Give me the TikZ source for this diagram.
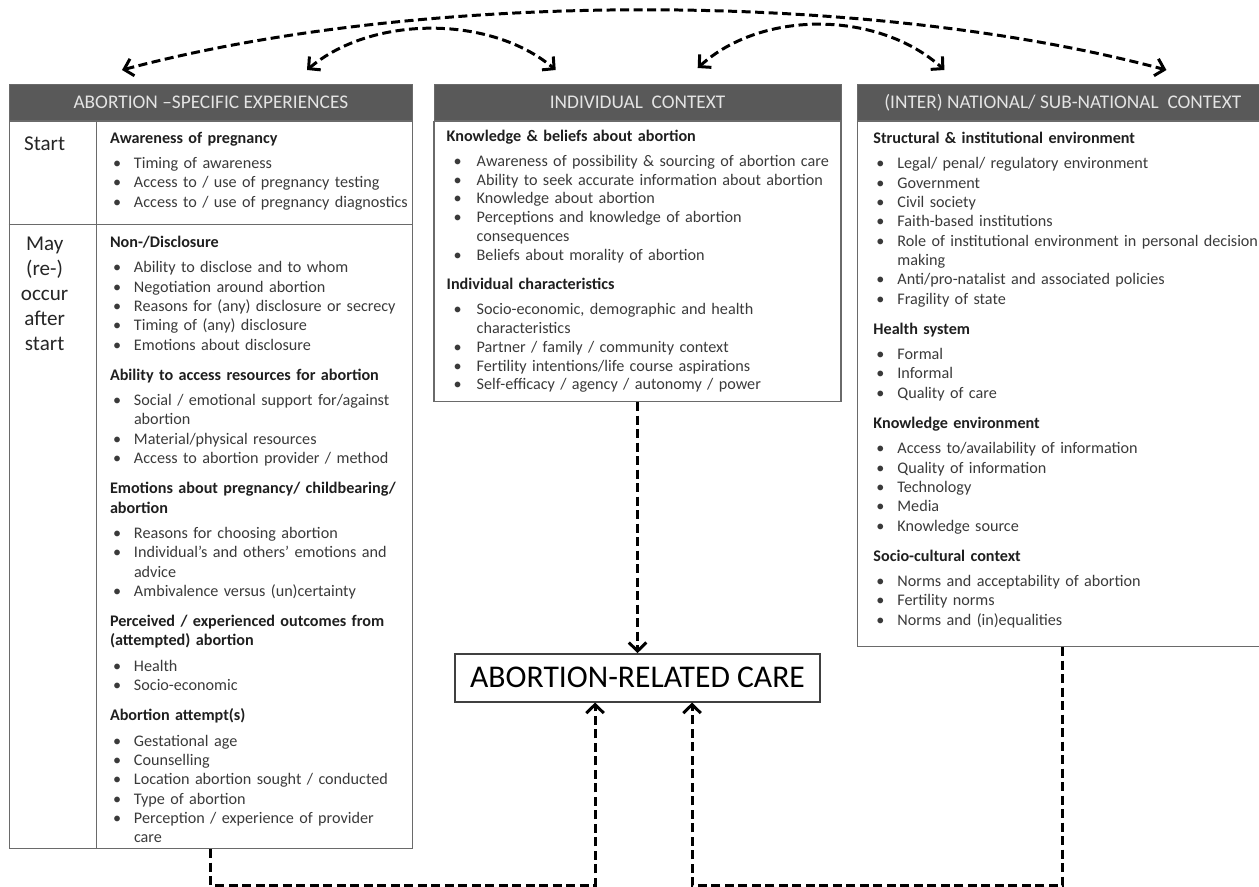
\documentclass[tikz,border=0pt]{standalone}
\usepackage{fontspec}
\setmainfont{Carlito}
\usetikzlibrary{positioning, arrows.meta}

\definecolor{hdrgray}{HTML}{595959}
\definecolor{hdrtext}{HTML}{E4E4E4}
\definecolor{bodytext}{HTML}{3A3A3A}
\definecolor{linegray}{HTML}{6A6A6A}

\setlength{\parskip}{0pt}
\newlength{\bulpos}\setlength{\bulpos}{0.06cm}
\newlength{\bulind}\setlength{\bulind}{0.48cm}
\newcommand{\firstgrp}[1]{\noindent{\bfseries\color{black!88}#1}\par\vspace{3.4pt}}
\newcommand{\grp}[1]{\par\vspace{6.2pt}\noindent{\bfseries\color{black!88}#1}\par\vspace{3.4pt}}
\newcommand{\bul}[1]{\par\noindent\hangindent=\bulind\hangafter=1\makebox[\bulind][l]{\hspace{\bulpos}\textbullet}#1}

\begin{document}
\begin{tikzpicture}[
    hdr/.style={draw=linegray, fill=hdrgray, text=hdrtext, minimum height=0.72cm, inner sep=0pt, font=\fontsize{11}{12}\selectfont},
    body/.style={draw=linegray, line width=0.8pt, inner sep=0pt},
    txt/.style={anchor=north west, inner sep=0pt, align=left, text=bodytext, font=\fontsize{9.2}{11}\selectfont},
    phase/.style={inner sep=0pt, text=black!85, font=\fontsize{12}{14.2}\selectfont},
    dashline/.style={line width=1.7pt, dash pattern=on 0.18cm off 0.09cm},
    >={Straight Barb[length=1.7mm, width=3.5mm]}
]
    \useasboundingbox (0,0) rectangle (25.18,-17.72);
    \clip (0,0) rectangle (25.18,-17.72);

    % Headers
    \node[hdr, minimum width=8.06cm, anchor=north west] (hdrleft) at (0.18,-1.68) {ABORTION –SPECIFIC EXPERIENCES};
    \node[hdr, minimum width=8.14cm, right=0.42cm of hdrleft] (hdrmid) {INDIVIDUAL\ \ CONTEXT};
    \node[hdr, minimum width=8.2cm, right=0.32cm of hdrmid] (hdrright) {(INTER) NATIONAL/ SUB-NATIONAL\ \ CONTEXT};

    % Boxes below the headers
    \node[body, minimum width=8.06cm, minimum height=14.54cm, below=0pt of hdrleft] (bodyleft) {};
    \node[body, minimum width=8.14cm, minimum height=5.6cm, below=0pt of hdrmid] (bodymid) {};
    \node[body, minimum width=8.2cm, minimum height=10.5cm, below=0pt of hdrright] (bodyright) {};

    % Phase column and row of the left box
    \draw[draw=linegray, line width=0.8pt] ([xshift=1.76cm]bodyleft.north west) -- ([xshift=1.76cm]bodyleft.south west);
    \draw[draw=linegray, line width=0.8pt] ([yshift=-2.08cm]bodyleft.north west) -- ([yshift=-2.08cm]bodyleft.north east);

    \node[phase, anchor=base] (start) at ([shift={(0.72cm,-0.6cm)}]bodyleft.north west) {Start};
    \node[phase, anchor=north, align=center] (later) at ([shift={(0.72cm,-2.32cm)}]bodyleft.north west) {May\\(re-)\\occur\\after\\start};

    % Abortion-specific experiences
    \node[txt, text width=6.3cm] (txtstart) at ([shift={(2.02cm,-0.22cm)}]bodyleft.north west) {%
        \firstgrp{Awareness of pregnancy}
        \bul{Timing of awareness}
        \bul{Access to / use of pregnancy testing}
        \bul{Access to / use of pregnancy diagnostics}\par};

    \node[txt, text width=6.3cm] (txtafter) at ([shift={(2.02cm,-2.3cm)}]bodyleft.north west) {%
        \firstgrp{Non-/Disclosure}
        \bul{Ability to disclose and to whom}
        \bul{Negotiation around abortion}
        \bul{Reasons for (any) disclosure or secrecy}
        \bul{Timing of (any) disclosure}
        \bul{Emotions about disclosure}
        \grp{Ability to access resources for abortion}
        \bul{Social / emotional support for/against\newline abortion}
        \bul{Material/physical resources}
        \bul{Access to abortion provider / method}
        \grp{Emotions about pregnancy/ childbearing/\newline abortion}
        \bul{Reasons for choosing abortion}
        \bul{Individual’s and others’ emotions and\newline advice}
        \bul{Ambivalence versus (un)certainty}
        \grp{Perceived / experienced outcomes from\newline (attempted) abortion}
        \bul{Health}
        \bul{Socio-economic}
        \grp{Abortion attempt(s)}
        \bul{Gestational age}
        \bul{Counselling}
        \bul{Location abortion sought / conducted}
        \bul{Type of abortion}
        \bul{Perception / experience of provider\newline care}\par};

    % Individual context
    \node[txt, text width=7.8cm, font=\fontsize{9.2}{10.7}\selectfont, execute at begin node={\setlength{\bulpos}{0.14cm}\setlength{\bulind}{0.6cm}}] (txtmid) at ([shift={(0.26cm,-0.18cm)}]bodymid.north west) {%
        \firstgrp{Knowledge \& beliefs about abortion}
        \bul{Awareness of possibility \& sourcing of abortion care}
        \bul{Ability to seek accurate information about abortion}
        \bul{Knowledge about abortion}
        \bul{Perceptions and knowledge of abortion\newline consequences}
        \bul{Beliefs about morality of abortion}
        \grp{Individual characteristics}
        \bul{Socio-economic, demographic and health\newline characteristics}
        \bul{Partner / family / community context}
        \bul{Fertility intentions/life course aspirations}
        \bul{Self-efficacy / agency / autonomy / power}\par};

    % (Inter) national / sub-national context
    \node[txt, text width=7.8cm] (txtright) at ([shift={(0.32cm,-0.22cm)}]bodyright.north west) {%
        \firstgrp{Structural \& institutional environment}
        \bul{Legal/ penal/ regulatory environment}
        \bul{Government}
        \bul{Civil society}
        \bul{Faith-based institutions}
        \bul{Role of institutional environment in personal decision\newline making}
        \bul{Anti/pro-natalist and associated policies}
        \bul{Fragility of state}
        \grp{Health system}
        \bul{Formal}
        \bul{Informal}
        \bul{Quality of care}
        \grp{Knowledge environment}
        \bul{Access to/availability of information}
        \bul{Quality of information}
        \bul{Technology}
        \bul{Media}
        \bul{Knowledge source}
        \grp{Socio-cultural context}
        \bul{Norms and acceptability of abortion}
        \bul{Fertility norms}
        \bul{Norms and (in)equalities}\par};

    % Abortion-related care
    \node[draw=black!75, line width=0.8pt, minimum width=7.3cm, minimum height=0.96cm, inner sep=0pt, font=\fontsize{18}{20}\selectfont, below=5.02cm of bodymid] (care) {ABORTION-RELATED CARE};

    % Arrows between the three contexts
    \draw[dashline, <->] ([shift={(2.26cm,0.28cm)}]hdrleft.north west) .. controls +(6.0,1.6) and +(-6.0,1.6) .. ([shift={(6.18cm,0.28cm)}]hdrright.north west);
    \draw[dashline, <->] ([shift={(5.96cm,0.28cm)}]hdrleft.north west) .. controls +(1.3,1.1) and +(-1.3,1.1) .. ([shift={(2.44cm,0.28cm)}]hdrmid.north west);
    \draw[dashline, <->] ([shift={(5.28cm,0.32cm)}]hdrmid.north west) .. controls +(1.3,1.18) and +(-1.3,1.18) .. ([shift={(1.74cm,0.28cm)}]hdrright.north west);

    % Arrows into care
    \draw[dashline, ->] (bodymid.south) -- (care.north);
    \draw[dashline, ->] (bodyleft.south) -- ++(0,-0.72) -| ([xshift=-0.85cm]care.south);
    \draw[dashline, ->] (bodyright.south) -- ++(0,-4.76) -| ([xshift=1.09cm]care.south);
\end{tikzpicture}
\end{document}
